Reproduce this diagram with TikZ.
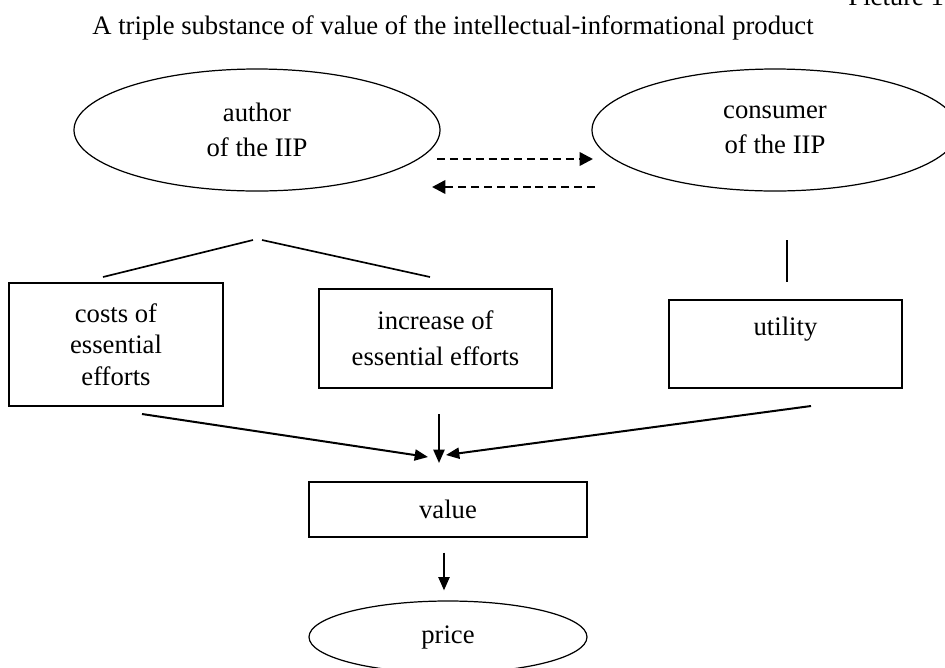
\documentclass[tikz,border=0pt]{standalone}
\usepackage{fontspec}
\setmainfont{Liberation Serif}
\usetikzlibrary{arrows.meta, shapes.geometric}

\begin{document}
\begin{tikzpicture}[x=0.45pt, y=-0.45pt, font=\fontsize{12}{16}\selectfont,
  oval/.style={draw, ellipse, line width=0.55pt, inner sep=0pt, align=center},
  card/.style={draw, rectangle, line width=0.55pt, inner sep=0pt, align=center},
  link/.style={line width=0.75pt},
  flow/.style={line width=0.9pt, -{Triangle[length=6pt, width=5pt]}},
  hint/.style={line width=1.1pt, dash pattern=on 3.6pt off 2.2pt, -{Triangle[length=6pt, width=6pt]}}]
  \useasboundingbox (0,0) rectangle (945,667);

  % Heading
  \node [anchor=base west, inner sep=0pt] (picnum) at (848,5) {Picture 1};
  \node [anchor=base, inner sep=0pt] (heading) at (453,34)
    {A triple substance of value of the intellectual-informational product};

  % Author and consumer
  \node [oval, minimum width=164.7pt, minimum height=54.9pt] (author) at (257,130) {author\\of the IIP};
  \node [oval, minimum width=164.7pt, minimum height=54.9pt] (consumer) at (775,130) {consumer\\of the IIP};

  \coordinate (sendA) at (437,159);
  \coordinate (sendB) at (593,159);
  \coordinate (backA) at (595,187);
  \coordinate (backB) at (432,187);
  \draw [hint] (sendA) -- (sendB);
  \draw [hint] (backA) -- (backB);

  % Efforts and utility
  \node [card, minimum width=96.3pt, minimum height=55.35pt, font=\fontsize{12}{14.2}\selectfont] (costs) at (116,344.5) {costs of\\essential\\efforts};
  \node [card, minimum width=104.85pt, minimum height=44.55pt] (increase) at (435.5,338.5) {increase of\\essential efforts};
  \node [card, minimum width=104.85pt, minimum height=39.6pt, text height=8pt, text depth=15.4pt] (utility) at (785.5,344) {utility};

  \coordinate (forkL) at (253,240);
  \coordinate (forkR) at (262,240);
  \coordinate (costsT) at (103,277);
  \coordinate (incrT) at (430,277);
  \coordinate (consB) at (787,240);
  \coordinate (utilT) at (787,282);
  \draw [link] (forkL) -- (costsT);
  \draw [link] (forkR) -- (incrT);
  \draw [line width=0.55pt] (consB) -- (utilT);

  % Value and price
  \node [card, minimum width=125.1pt, minimum height=24.75pt] (value) at (448,509.5) {value};
  \node [oval, minimum width=125.1pt, minimum height=32.4pt] (price) at (448,637) {price};

  \coordinate (costsB) at (142,414);
  \coordinate (incrB) at (439,414);
  \coordinate (utilB) at (811,406);
  \coordinate (tipL) at (428,457);
  \coordinate (tipM) at (439,463);
  \coordinate (tipR) at (446,455);
  \draw [flow] (costsB) -- (tipL);
  \draw [flow] (incrB) -- (tipM);
  \draw [flow] (utilB) -- (tipR);
  \draw [flow, shorten <=6.75pt, shorten >=4.5pt] (value.south -| 444,0) -- (price.north -| 444,0);
\end{tikzpicture}
\end{document}
